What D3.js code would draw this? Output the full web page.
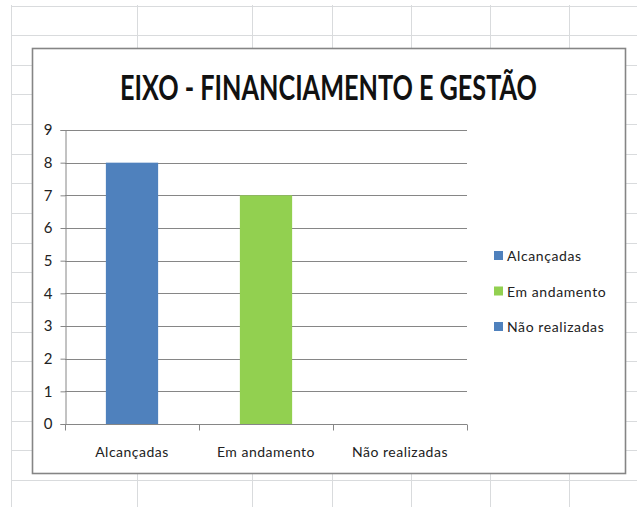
<!DOCTYPE html>
<html>
<head>
<meta charset="utf-8">
<script src="https://cdn.jsdelivr.net/npm/d3@7"></script>
<style>
  body { margin: 0; background: #fff; }
  text { font-family: Lato, "Open Sans", sans-serif; fill: #222; }
</style>
</head>
<body>
<div class="container"></div>
<script>
const WIDTH = 637;
const HEIGHT = 507;

// chart data
var categories = ["Alcançadas", "Em andamento", "Não realizadas"];
var values = [8, 7, 0];
var barColors = ["#4f81bd", "#92d050", "#4f81bd"];
var yTicks = [0, 1, 2, 3, 4, 5, 6, 7, 8, 9];
var title = "EIXO - FINANCIAMENTO E GESTÃO";

var svg = d3.select(".container")
    .append("svg")
    .attr("width", WIDTH)
    .attr("height", HEIGHT);

// spreadsheet cells behind the chart
var sheetCols = [11, 137, 252, 332, 411, 490, 569];
var sheet = svg.append("g").attr("stroke", "#d9dbdd").attr("stroke-width", 1);
for (var ry = 5.5; ry < HEIGHT; ry += 29.65) {
    sheet.append("line").attr("x1", 11).attr("x2", WIDTH)
        .attr("y1", Math.round(ry) + 0.5).attr("y2", Math.round(ry) + 0.5);
}
sheetCols.forEach(function(cx){
    sheet.append("line").attr("x1", cx + 0.5).attr("x2", cx + 0.5)
        .attr("y1", 5).attr("y2", HEIGHT);
});

// chart box
svg.append("rect")
    .attr("x", 32.5).attr("y", 48.5)
    .attr("width", 593).attr("height", 425)
    .attr("fill", "#fff")
    .attr("stroke", "#858585")
    .attr("stroke-width", 1.6);

// title, squeezed horizontally to look like the condensed original
var titleG = svg.append("g");
var titleText = titleG.append("text")
    .attr("x", 0).attr("y", 0)
    .attr("text-anchor", "middle")
    .attr("font-size", 34)
    .attr("font-weight", "bold")
    .style("fill", "#111")
    .text(title);
var natural = titleText.node().getComputedTextLength();
var sx = Math.min(1, 417 / natural);
titleG.attr("transform", "translate(328.5,100) scale(" + sx + ",1)");

var plot = { left: 65, right: 467, top: 130, bottom: 424 };

var x = d3.scaleBand()
    .domain(categories)
    .range([plot.left, plot.right])
    .paddingInner(0.61)
    .paddingOuter(0.305);

var y = d3.scaleLinear()
    .domain([0, 9])
    .range([plot.bottom, plot.top]);

// horizontal gridlines
svg.append("g")
    .selectAll("line")
    .data(yTicks.filter(function(d){ return d > 0; }))
    .enter().append("line")
    .attr("x1", plot.left).attr("x2", plot.right)
    .attr("y1", function(d){ return Math.round(y(d)) + 0.5; })
    .attr("y2", function(d){ return Math.round(y(d)) + 0.5; })
    .attr("stroke", "#868686");

// bars
svg.append("g")
    .selectAll("rect")
    .data(values)
    .enter().append("rect")
    .attr("x", function(d, i){ return x(categories[i]); })
    .attr("y", function(d){ return y(d); })
    .attr("width", x.bandwidth())
    .attr("height", function(d){ return y(0) - y(d); })
    .attr("fill", function(d, i){ return barColors[i]; });

// y axis
var yAxis = svg.append("g")
    .attr("transform", "translate(" + (plot.left + 0.5) + ",0)")
    .call(d3.axisLeft(y).tickValues(yTicks).tickSize(5).tickPadding(8).tickFormat(d3.format("d")));
yAxis.selectAll("line, path").attr("stroke", "#868686");
yAxis.selectAll("text").attr("font-size", 15).style("font-family", "Lato, sans-serif").style("fill", "#222");

// x axis with ticks at category boundaries
var xAxis = svg.append("g")
    .attr("transform", "translate(0," + (plot.bottom + 0.5) + ")");
xAxis.append("line")
    .attr("x1", plot.left).attr("x2", plot.right)
    .attr("stroke", "#868686");
var bounds = categories.map(function(c){ return x(c) - x.step() * x.paddingInner() / 2; })
    .concat([plot.right]);
xAxis.selectAll(".tick")
    .data(bounds)
    .enter().append("line")
    .attr("x1", function(d){ return Math.round(d) + 0.5; })
    .attr("x2", function(d){ return Math.round(d) + 0.5; })
    .attr("y1", 0).attr("y2", 6)
    .attr("stroke", "#868686");
xAxis.selectAll("text")
    .data(categories)
    .enter().append("text")
    .attr("x", function(d){ return x(d) + x.bandwidth() / 2; })
    .attr("y", 32)
    .attr("text-anchor", "middle")
    .attr("font-size", 14)
    .attr("letter-spacing", 0.5)
    .text(function(d){ return d; });

// legend
var legend = svg.append("g").attr("transform", "translate(494,251)");
var item = legend.selectAll("g")
    .data(categories)
    .enter().append("g")
    .attr("transform", function(d, i){ return "translate(0," + (i * 35.5) + ")"; });
item.append("rect")
    .attr("width", 9).attr("height", 9)
    .attr("fill", function(d, i){ return barColors[i]; });
item.append("text")
    .attr("x", 13).attr("y", 10)
    .attr("font-size", 14)
    .attr("letter-spacing", 0.6)
    .text(function(d){ return d; });
</script>
</body>
</html>
